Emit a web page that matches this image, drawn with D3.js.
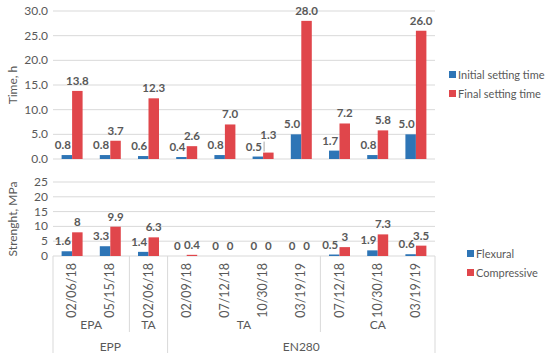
<!DOCTYPE html>
<html>
<head>
<meta charset="utf-8">
<script src="https://cdn.jsdelivr.net/npm/d3@7"></script>
<style>
  body { margin: 0; background: #fff; }
  svg text { font-family: Lato, "Noto Sans", sans-serif; }
</style>
</head>
<body>
<svg class="main"></svg>
<script>
let dates = ['02/06/18', '05/15/18', '02/06/18', '02/09/18', '07/12/18', '10/30/18', '03/19/19', '07/12/18', '10/30/18', '03/19/19'];
let initialTime = [0.8, 0.8, 0.6, 0.4, 0.8, 0.5, 5.0, 1.7, 0.8, 5.0];
let finalTime = [13.8, 3.7, 12.3, 2.6, 7.0, 1.3, 28.0, 7.2, 5.8, 26.0];
let flexural = [1.6, 3.3, 1.4, 0, 0, 0, 0, 0.5, 1.9, 0.6];
let compressive = [8, 9.9, 6.3, 0.4, 0, 0, 0, 3, 7.3, 3.5];
let timeTicks = [0, 5, 10, 15, 20, 25, 30];
let strengthTicks = [0, 5, 10, 15, 20, 25];
let level2 = [['EPA', 0, 2], ['TA', 2, 3], ['TA', 3, 7], ['CA', 7, 10]];
let level3 = [['EPP', 0, 3], ['EN280', 3, 10]];

let w = 550, h = 361;
let blue = '#2E75B6', red = '#E0464B', grid = '#D9D9D9', txt = '#595959';

let svg = d3.select('.main').attr('width', w).attr('height', h);

let x = d3.scaleBand().domain(d3.range(dates.length)).range([53, 435]);
let xs = d3.scaleBand().domain([0, 1]).range([0, x.bandwidth()]).paddingOuter(0.82);

let yTop = d3.scaleLinear().domain([0, 30]).range([159, 11]);
let yBot = d3.scaleLinear().domain([0, 25]).range([256, 182]);

function panel(y, ticks, fmt, s1, s2, title) {
  let g = svg.append('g');
  g.selectAll('line.grid').data(ticks).enter().append('line')
    .attr('x1', 53).attr('x2', 435)
    .attr('y1', d => y(d)).attr('y2', d => y(d))
    .attr('stroke', grid).attr('stroke-width', 1);
  g.selectAll('text.tick').data(ticks).enter().append('text')
    .attr('x', 48).attr('y', d => y(d) + 4)
    .attr('text-anchor', 'end').attr('font-size', 12).attr('fill', txt)
    .text(fmt);
  let [y0, y1] = y.range();
  svg.append('text')
    .attr('transform', `translate(17,${(y0 + y1) / 2}) rotate(-90)`)
    .attr('text-anchor', 'middle').attr('font-size', 12).attr('fill', txt)
    .text(title);

  [s1, s2].forEach((s, k) => {
    g.selectAll('rect.s' + k).data(s).enter().append('rect')
      .attr('x', (d, i) => x(i) + xs(k))
      .attr('width', xs.bandwidth())
      .attr('y', d => y(d))
      .attr('height', d => y(0) - y(d))
      .attr('fill', k ? red : blue);
  });
}

panel(yTop, timeTicks, d => d.toFixed(1), initialTime, finalTime, 'Time, h');
panel(yBot, strengthTicks, d => d, flexural, compressive, 'Strenght, MPa');

// data labels
function labels(y, s, k, fmt, nudge) {
  svg.append('g').selectAll('text').data(s).enter().append('text')
    .attr('x', (d, i) => x(i) + xs(k) + xs.bandwidth() / 2 + (k ? 0 : -4))
    .attr('y', (d, i) => y(d) - 6 - (nudge ? nudge(d, i) : 0))
    .attr('text-anchor', 'middle').attr('font-size', 11.5).attr('font-weight', 'bold')
    .attr('fill', txt)
    .text(fmt);
}
labels(yTop, initialTime, 0, d => d.toFixed(1));
labels(yTop, finalTime, 1, d => d.toFixed(1), (d, i) => i === 5 ? 8 : 0);
labels(yBot, flexural, 0, d => d);
labels(yBot, compressive, 1, d => d);

// leader line for the small final-time label
svg.append('line')
  .attr('x1', x(5) + xs(1) + 1).attr('x2', x(5) + xs(1) + 1)
  .attr('y1', yTop(finalTime[5]) - 11).attr('y2', yTop(finalTime[5]) - 1)
  .attr('stroke', '#A6A6A6');

// multi-level category axis
let ax = svg.append('g');
ax.selectAll('text.date').data(dates).enter().append('text')
  .attr('transform', (d, i) => `translate(${x(i) + x.bandwidth() / 2 + 4},263) rotate(-90)`)
  .attr('text-anchor', 'end').attr('font-size', 12.5).attr('fill', txt)
  .text(d => d);

ax.selectAll('text.l2').data(level2).enter().append('text')
  .attr('x', d => (x(d[1]) + x(d[2] - 1) + x.bandwidth()) / 2)
  .attr('y', 329).attr('text-anchor', 'middle').attr('font-size', 12).attr('fill', txt)
  .text(d => d[0]);
ax.selectAll('text.l3').data(level3).enter().append('text')
  .attr('x', d => (x(d[1]) + x(d[2] - 1) + x.bandwidth()) / 2)
  .attr('y', 351).attr('text-anchor', 'middle').attr('font-size', 12).attr('fill', txt)
  .text(d => d[0]);

let longEdges = [0].concat(level3.map(d => d[2]));
let shortEdges = level2.map(d => d[2]).filter(e => longEdges.indexOf(e) < 0);
ax.selectAll('line.long').data(longEdges).enter().append('line')
  .attr('x1', d => d < dates.length ? x(d) : x.range()[1])
  .attr('x2', d => d < dates.length ? x(d) : x.range()[1])
  .attr('y1', 256).attr('y2', 353).attr('stroke', grid);
ax.selectAll('line.short').data(shortEdges).enter().append('line')
  .attr('x1', d => x(d)).attr('x2', d => x(d))
  .attr('y1', 256).attr('y2', 332).attr('stroke', grid);

// legends
function legend(items, top) {
  let g = svg.append('g');
  items.forEach((it, i) => {
    g.append('rect').attr('x', it[2]).attr('y', top + i * 19 - 4).attr('width', 7).attr('height', 7).attr('fill', it[1]);
    g.append('text').attr('x', it[2] + 9).attr('y', top + i * 19 + 4)
      .attr('font-size', 11).attr('fill', txt).text(it[0]);
  });
}
legend([['Initial setting time', blue, 449], ['Final setting time', red, 449]], 75);
legend([['Flexural', blue, 467], ['Compressive', red, 467]], 254);
</script>
</body>
</html>
